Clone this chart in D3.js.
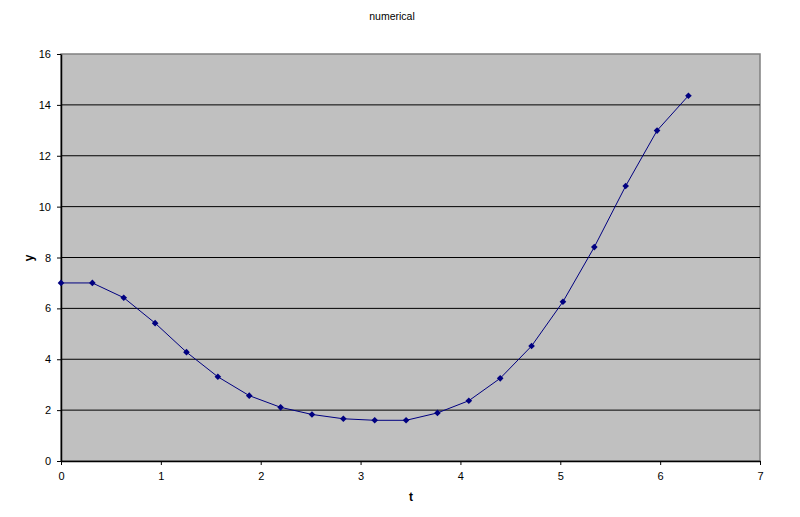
<!DOCTYPE html>
<html><head><meta charset="utf-8">
<script src="https://cdn.jsdelivr.net/npm/d3@7"></script>
<style>body{margin:0;background:#fff}svg{display:block}text{font-family:"Liberation Sans",Arial,sans-serif}</style>
</head><body>
<script>
const tValues = [0,0.314159,0.628319,0.942478,1.256637,1.570796,1.884956,2.199115,2.513274,2.827433,3.141593,3.455752,3.769911,4.084070,4.398230,4.712389,5.026548,5.340708,5.654867,5.969026,6.283185];
const yValues = [7.0,7.0,6.42,5.42,4.28,3.31,2.57,2.11,1.83,1.66,1.60,1.60,1.89,2.37,3.25,4.52,6.26,8.41,10.81,12.99,14.36];
const xTicks = [0,1,2,3,4,5,6,7];
const yTicks = [0,2,4,6,8,10,12,14,16];
const title = "numerical", xLabel = "t", yLabel = "y";

const W=800,H=517, L=61, R=760, T=54, B=461;
const svg=d3.select("body").append("svg").attr("width",W).attr("height",H);
const x=d3.scaleLinear().domain([0,7]).range([L,R]);
const y=d3.scaleLinear().domain([0,16]).range([B,T]);

svg.append("rect").attr("x",L).attr("y",T).attr("width",R-L).attr("height",B-T).attr("fill","#c0c0c0").attr("stroke","#808080").attr("stroke-width",1.5);

svg.append("g").selectAll("line").data(yTicks.filter(d=>d>0&&d<16)).join("line")
  .attr("x1",L).attr("x2",R).attr("y1",d=>y(d)).attr("y2",d=>y(d)).attr("stroke","#000").attr("stroke-width",1);

const ya=svg.append("g").attr("transform",`translate(${L},0)`).call(d3.axisLeft(y).tickValues(yTicks).tickFormat(d3.format("d")).tickSize(4).tickSizeOuter(0).tickPadding(6));
const xa=svg.append("g").attr("transform",`translate(0,${B})`).call(d3.axisBottom(x).tickValues(xTicks).tickFormat(d3.format("d")).tickSize(4).tickSizeOuter(0).tickPadding(7));
[ya,xa].forEach(a=>{a.select(".domain").attr("stroke","#000").attr("stroke-width",1.5);a.selectAll(".tick line").attr("stroke","#000");a.selectAll("text").attr("font-size",11).attr("fill","#000").attr("font-family",'"Liberation Sans",Arial,sans-serif');});

const pts=tValues.map((t,i)=>[t,yValues[i]]);
svg.append("path").datum(pts).attr("d",d3.line().x(d=>x(d[0])).y(d=>y(d[1]))).attr("fill","none").attr("stroke","#000080").attr("stroke-width",1);
svg.append("g").selectAll("path").data(pts).join("path")
  .attr("d",d3.symbol(d3.symbolDiamond2,28)).attr("transform",d=>`translate(${x(d[0])},${y(d[1])})`).attr("fill","#000080");

svg.append("text").attr("x",392).attr("y",20).attr("text-anchor","middle").attr("font-size",10.5).text(title);
svg.append("text").attr("x",411).attr("y",501).attr("text-anchor","middle").attr("font-size",12).attr("font-weight","bold").text(xLabel);
svg.append("text").attr("transform","translate(33,258) rotate(-90)").attr("text-anchor","middle").attr("font-size",12).attr("font-weight","bold").text(yLabel);
</script>
</body></html>
